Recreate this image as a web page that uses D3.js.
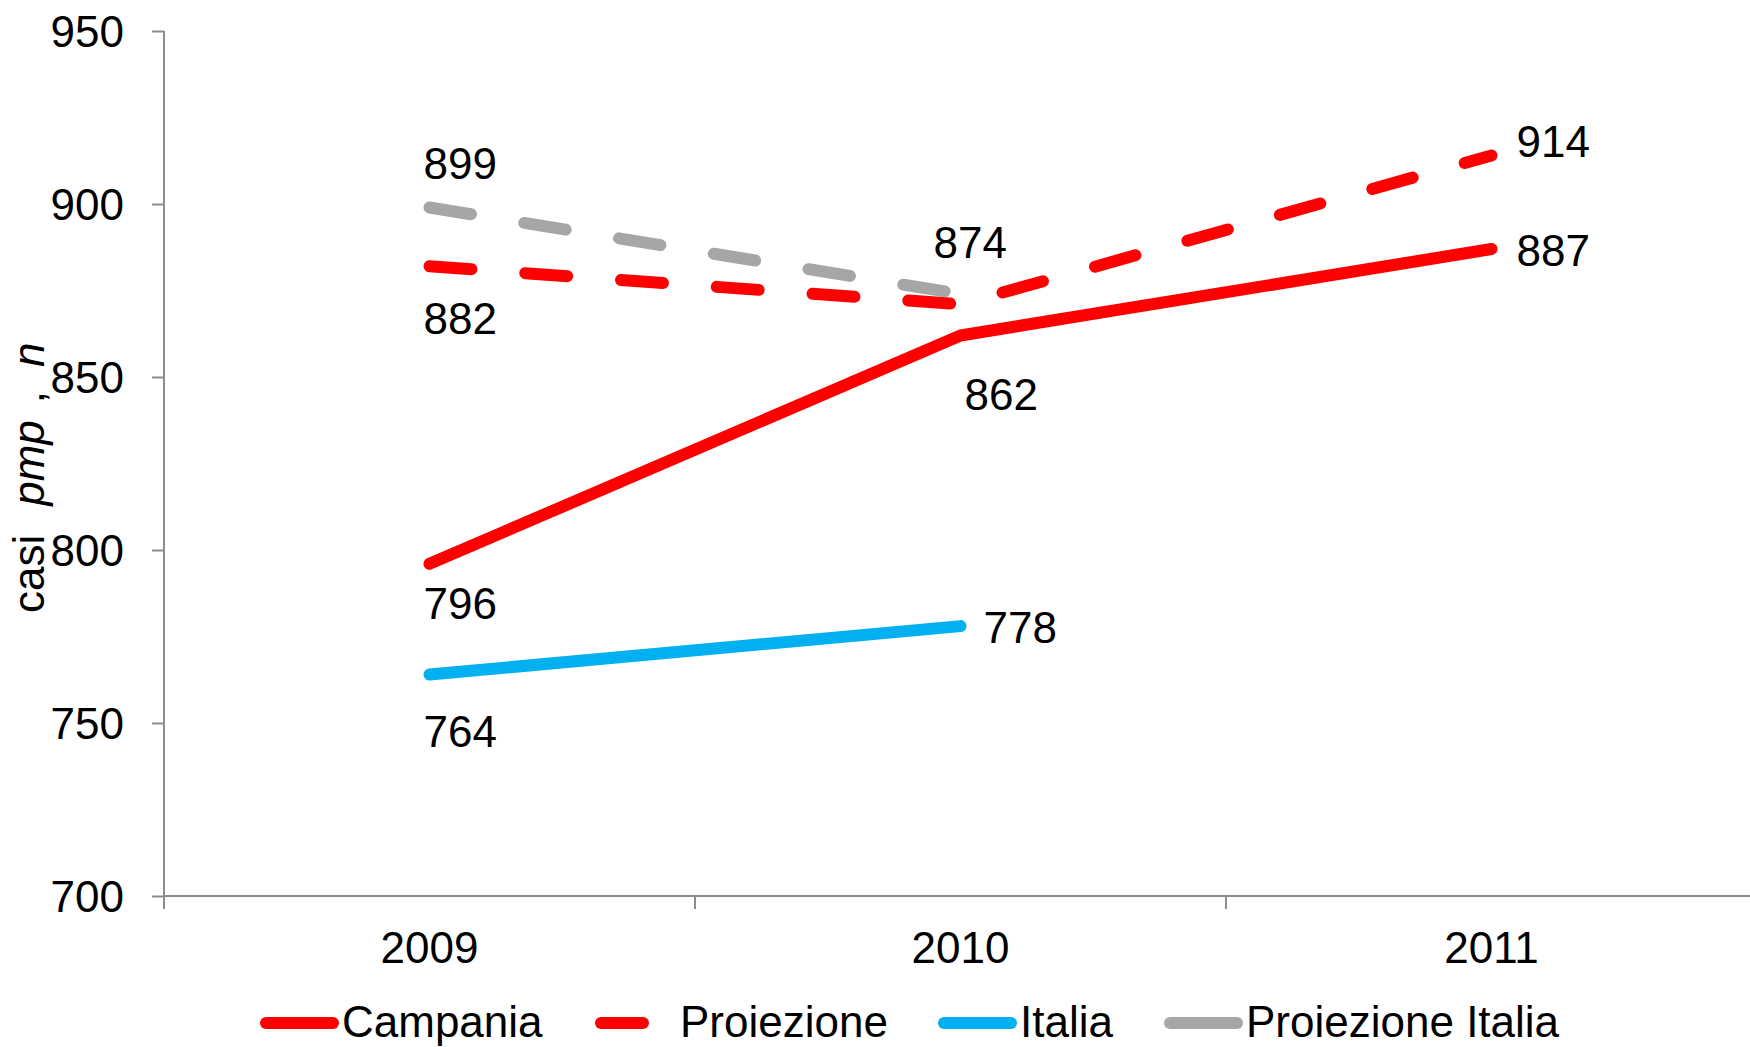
<!DOCTYPE html>
<html>
<head>
<meta charset="utf-8">
<script src="https://cdn.jsdelivr.net/npm/d3@7/dist/d3.min.js"></script>
<style>
  html, body { margin: 0; padding: 0; background: #fff; }
  svg { display: block; }
  text { font-family: 'Liberation Sans', Arial, sans-serif; fill: #000; }
</style>
</head>
<body>
<svg id="chart"></svg>
<script>
const years = ['2009', '2010', '2011'];
const yTicks = [700, 750, 800, 850, 900, 950];
const campania = [796, 862, 887];
const proiezione = [882, 871, 914];
const italia = [764, 778];
const proiezioneItalia = [899, 874];
const seriesNames = ['Campania', 'Proiezione', 'Italia', 'Proiezione Italia'];

// which points get a value label
const labelled = {
  'Campania': [true, true, true],
  'Proiezione': [true, false, true],
  'Italia': [true, true],
  'Proiezione Italia': [true, true],
};

const width = 1750, height = 1047;
const svg = d3.select('#chart').attr('width', width).attr('height', height);

const x = d3.scaleBand(years, [164, 1757]).padding(0);
const y = d3.scaleLinear([700, 950], [896, 31]);
const cx = (i) => x(years[i]) + x.bandwidth() / 2;

const styles = {
  'Campania': { color: '#ff0000', dash: null },
  'Proiezione': { color: '#ff0000', dash: '42 54' },
  'Italia': { color: '#00b0f0', dash: null },
  'Proiezione Italia': { color: '#a6a6a6', dash: '42 54' },
};
// label offsets from the point: [dx, dy]
const labelOffsets = {
  'Campania': [[-6, 55], [4, 75], [25, 17]],
  'Proiezione': [[-6, 68], null, [25, 1]],
  'Italia': [[-6, 72], [23, 17]],
  'Proiezione Italia': [[-6, -28], [-27, -36]],
};
const values = { 'Campania': campania, 'Proiezione': proiezione, 'Italia': italia, 'Proiezione Italia': proiezioneItalia };

// axes
const axisColor = '#8c8c8c';
const yAxis = svg.append('g').attr('transform', 'translate(164,0)')
  .call(d3.axisLeft(y).tickValues(yTicks).tickSize(12).tickPadding(28).tickSizeOuter(0));
yAxis.select('.domain').attr('stroke', axisColor).attr('stroke-width', 2).attr('d', 'M0,31V909');
yAxis.selectAll('.tick line').attr('stroke', axisColor).attr('stroke-width', 2);
yAxis.selectAll('.tick text').attr('font-size', 44).attr('font-family', "'Liberation Sans', Arial, sans-serif").attr('fill', '#000').attr('dy', '0.36em');

const xAxis = svg.append('g').attr('transform', 'translate(0,896)')
  .call(d3.axisBottom(x).tickSize(0).tickPadding(0));
xAxis.select('.domain').attr('stroke', axisColor).attr('stroke-width', 2).attr('d', 'M164,0H1750');
xAxis.selectAll('.tick text').attr('font-size', 44).attr('font-family', "'Liberation Sans', Arial, sans-serif").attr('fill', '#000').attr('y', 67).attr('dy', 0);
svg.append('g').selectAll('line').data(years.slice(1).concat(['end'])).join('line')
  .attr('x1', (d, i) => x(years[0]) + x.bandwidth() * (i + 1)).attr('x2', (d, i) => x(years[0]) + x.bandwidth() * (i + 1))
  .attr('y1', 896).attr('y2', 909).attr('stroke', axisColor).attr('stroke-width', 2);

// y title
const title = svg.append('text').attr('transform', 'translate(44,613) rotate(-90)').attr('font-size', 44);
title.append('tspan').text('casi');
title.append('tspan').attr('dx', 29).attr('font-style', 'italic').text('pmp');
title.append('tspan').attr('dx', 17).text(',');
title.append('tspan').attr('dx', 24).attr('font-style', 'italic').text('n');

// lines
const line = d3.line().x((d, i) => cx(i)).y((d) => y(d));
seriesNames.forEach((name) => {
  const st = styles[name];
  svg.append('path').datum(values[name]).attr('d', line)
    .attr('fill', 'none').attr('stroke', st.color).attr('stroke-width', 12)
    .attr('stroke-linecap', 'round').attr('stroke-linejoin', 'round')
    .attr('stroke-dasharray', st.dash);
});

// value labels
seriesNames.forEach((name) => {
  values[name].forEach((v, i) => {
    if (!labelled[name][i]) return;
    const [dx, dy] = labelOffsets[name][i];
    svg.append('text').attr('x', cx(i) + dx).attr('y', y(v) + dy).attr('font-size', 44).text(v);
  });
});

// legend
const legendX = { 'Campania': 266, 'Proiezione': 601, 'Italia': 944, 'Proiezione Italia': 1170 };
const legendDash = { 'Campania': null, 'Proiezione': '42 54', 'Italia': null, 'Proiezione Italia': null };
const legend = svg.append('g');
seriesNames.forEach((name) => {
  const lx = legendX[name];
  legend.append('line').attr('x1', lx).attr('x2', lx + 67).attr('y1', 1023).attr('y2', 1023)
    .attr('stroke', styles[name].color).attr('stroke-width', 12).attr('stroke-linecap', 'round')
    .attr('stroke-dasharray', legendDash[name]);
  legend.append('text').attr('x', name === 'Proiezione' ? 680 : lx + 76).attr('y', 1037).attr('font-size', 44).text(name);
});
</script>
</body>
</html>
